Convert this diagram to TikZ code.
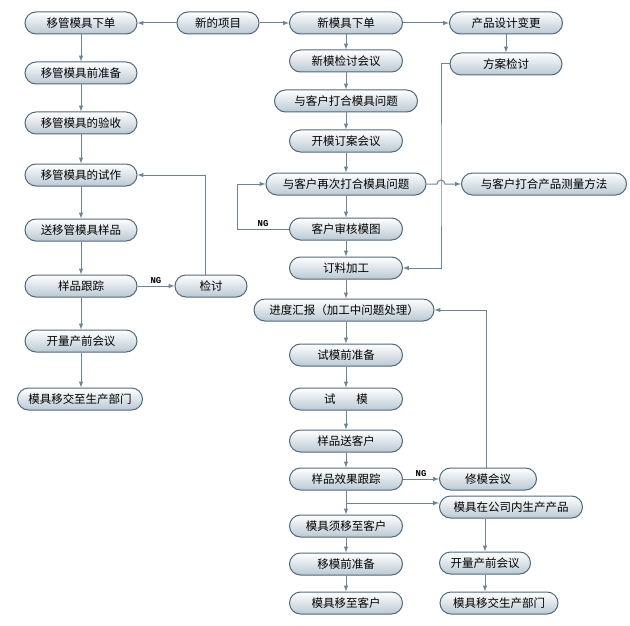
\documentclass[tikz,border=0pt]{standalone}
\usepackage{fontspec}
\setmainfont{Noto Sans CJK SC}
\setmonofont{Liberation Mono}
\usepackage{tikz}
\usetikzlibrary{arrows}
\definecolor{rim}{RGB}{82,105,122}
\definecolor{wire}{RGB}{107,133,149}
\definecolor{shade}{RGB}{186,200,211}
\tikzstyle{flow}=[x=1pt, y=-1pt, font=\fontsize{11.5}{14}\selectfont]
\tikzstyle{box}=[rectangle, rounded corners=11pt, draw=rim, line width=1pt, top color=white, bottom color=shade, minimum height=22pt, inner sep=0pt]
\tikzstyle{edge}=[-latex, draw=wire, line width=1pt]
\tikzstyle{ng}=[inner sep=1.5pt, font=\ttfamily\bfseries\fontsize{9}{10}\selectfont]

\begin{document}
\begin{tikzpicture}[flow]
	\useasboundingbox (0,0) rectangle (630,626);

	%The start
	\draw (218,23) node[box, minimum width=82pt] (start) {新的项目};

	%The left column
	\draw (81,23) node[box, minimum width=112pt] (lorder) {移管模具下单};
	\draw (81,73) node[box, minimum width=112pt] (lprep) {移管模具前准备};
	\draw (81,123) node[box, minimum width=112pt] (laccept) {移管模具的验收};
	\draw (81,175) node[box, minimum width=112pt] (ltrial) {移管模具的试作};
	\draw (81,230) node[box, minimum width=112pt] (lsample) {送移管模具样品};
	\draw (81,286) node[box, minimum width=112pt] (ltrack) {样品跟踪};
	\draw (81,341) node[box, minimum width=112pt] (lmeet) {开量产前会议};
	\draw (80,399) node[box, minimum width=125pt] (lhand) {模具移交至生产部门};
	\draw (211,286) node[box, minimum width=72pt] (lcheck) {检讨};

	%The middle column
	\draw (346,23) node[box, minimum width=113pt] (morder) {新模具下单};
	\draw (346,61) node[box, minimum width=113pt] (mreview) {新模检讨会议};
	\draw (346,101) node[box, minimum width=143pt] (mtalk) {与客户打合模具问题};
	\draw (346,141) node[box, minimum width=113pt] (mplan) {开模订案会议};
	\draw (346,184) node[box, minimum width=160pt] (mtalk2) {与客户再次打合模具问题};
	\draw (346,229) node[box, minimum width=113pt] (mdraw) {客户审核模图};
	\draw (346,268) node[box, minimum width=113pt] (mfeed) {订料加工};
	\draw (344,310) node[box, minimum width=180pt] (mreport) {进度汇报（加工中问题处理）};
	\draw (346,355) node[box, minimum width=113pt] (mprep) {试模前准备};
	\draw (346,399) node[box, minimum width=113pt] (mtry) {试\hspace{1.8em}模};
	\draw (346,441) node[box, minimum width=113pt] (msend) {样品送客户};
	\draw (346,479) node[box, minimum width=113pt] (mtrack) {样品效果跟踪};
	\draw (346,526) node[box, minimum width=113pt] (mmove) {模具须移至客户};
	\draw (346,564) node[box, minimum width=113pt] (mmprep) {移模前准备};
	\draw (346,603) node[box, minimum width=113pt] (mdone) {模具移至客户};

	%The right column
	\draw (506,23) node[box, minimum width=113pt] (rchange) {产品设计变更};
	\draw (506,64) node[box, minimum width=112pt] (rplan) {方案检讨};
	\draw (544,184) node[box, minimum width=165pt] (rmeasure) {与客户打合产品测量方法};
	\draw (488,479) node[box, minimum width=97pt] (rrepair) {修模会议};
	\draw (511,507) node[box, minimum width=143pt] (rprod) {模具在公司内生产产品};
	\draw (485,563) node[box, minimum width=91pt] (rmeet) {开量产前会议};
	\draw (499,603) node[box, minimum width=118pt] (rhand) {模具移交生产部门};

	%The top row
	\draw[edge] (start) -- (lorder);
	\draw[edge] (start) -- (morder);
	\draw[edge] (morder) -- (rchange);
	\draw[edge] (rchange) -- (rplan);

	%The left chain
	\draw[edge] (lorder) -- (lprep);
	\draw[edge] (lprep) -- (laccept);
	\draw[edge] (laccept) -- (ltrial);
	\draw[edge] (ltrial) -- (lsample);
	\draw[edge] (lsample) -- (ltrack);
	\draw[edge] (ltrack) -- (lmeet);
	\draw[edge] (lmeet) -- (lmeet |- lhand.north);
	\draw[edge] (ltrack) -- node[ng, above] {NG} (lcheck);
	\draw[edge] ([xshift=-6pt]lcheck.north) |- (ltrial);

	%The middle chain
	\draw[edge] (morder) -- (mreview);
	\draw[edge] (mreview) -- (mtalk);
	\draw[edge] (mtalk) -- (mplan);
	\draw[edge] (mplan) -- (mtalk2);
	\draw[edge] (mtalk2) -- (mdraw);
	\draw[edge] (mdraw) -- (mfeed);
	\draw[edge] (mfeed) -- (mfeed |- mreport.north);
	\draw[edge] (mfeed |- mreport.south) -- (mprep);
	\draw[edge] (mprep) -- (mtry);
	\draw[edge] (mtry) -- (msend);
	\draw[edge] (msend) -- (mtrack);
	\draw[edge] (mtrack) -- (mmove);
	\draw[edge] (mmove) -- (mmprep);
	\draw[edge] (mmprep) -- (mdone);
	\draw[edge] (mdraw.west) -- node[ng, above] {NG} ++(-52,0) |- (mtalk2);

	%The plan loop, hopping over the measure line
	\coordinate (hop) at (441,184);
	\draw[edge] (rplan.west) -| (hop) |- (mfeed);
	\draw[edge] (mtalk2) -- ([xshift=-4pt]hop) arc[start angle=180, end angle=0, radius=4pt] -- (rmeasure);

	%The repair loop and the branch
	\draw[edge] (mtrack) -- node[ng, above] {NG} (rrepair);
	\draw[edge] ([xshift=-2pt]rrepair.north) |- (mreport);
	\coordinate (split) at (346,503);
	\draw[edge] (split) -- (split -| rprod.west);
	\draw[edge] (rprod.south -| rmeet) -- (rmeet);
	\draw[edge] (rmeet) -- (rmeet |- rhand.north);
\end{tikzpicture}
\end{document}
